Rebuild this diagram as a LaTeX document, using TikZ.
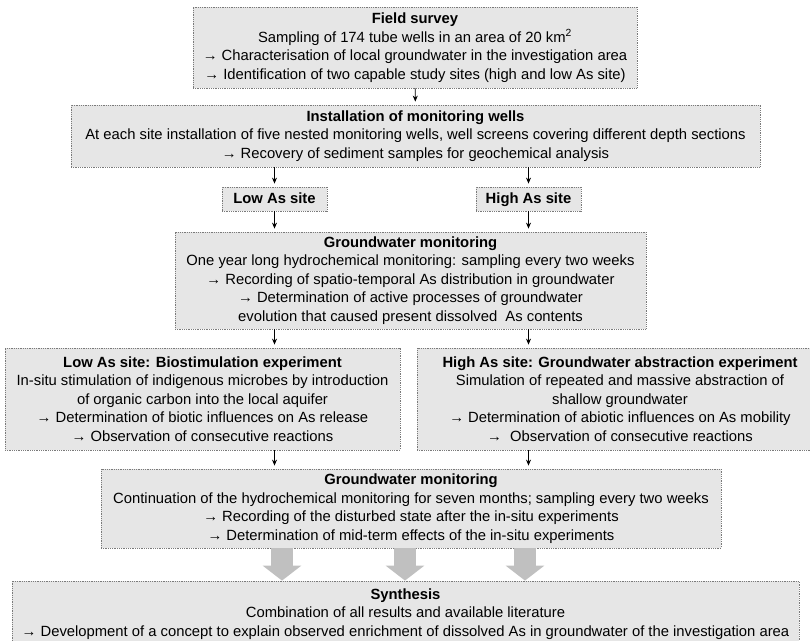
\documentclass[tikz,border=0pt]{standalone}
\usepackage{fontspec}
\setmainfont{Liberation Sans}
\usetikzlibrary{arrows.meta}

\definecolor{boxgray}{HTML}{E6E6E6}
\definecolor{framegray}{HTML}{7A7A7A}
\definecolor{fatgray}{HTML}{C0C0C0}

\tikzset{
  box/.style={draw=framegray, densely dotted, line width=0.8pt, fill=boxgray,
    align=center, inner sep=0pt, font=\fontsize{14.8}{18.5}\selectfont},
  sitebox/.style={box, font=\fontsize{14.8}{18.5}\selectfont\bfseries,
    text height=11pt, text depth=3pt},
  link/.style={-{Stealth[length=6pt,width=5pt]}, line width=0.7pt, shorten >=3pt},
  fatarrow/.style={draw=fatgray, line width=22pt, -{Triangle[length=15pt,width=38pt]}}
}

\begin{document}
\begin{tikzpicture}[x=1pt,y=-1pt]

\useasboundingbox (0,0) rectangle (810,640);

\node [box, minimum width=444, minimum height=81] (survey) at (415,47.5)
  {\textbf{Field survey}\\
   Sampling of 174 tube wells in an area of 20 km\textsuperscript{2}\\
   → Characterisation of local groundwater in the investigation area\\
   → Identification of two capable study sites (high and low As site)};

\node [box, minimum width=689, minimum height=62] (install) at (415.5,136)
  {\textbf{Installation of monitoring wells}\\
   At each site installation of five nested monitoring wells, well screens covering different depth sections\\
   → Recovery of sediment samples for geochemical analysis};

\node [sitebox, minimum width=105, minimum height=24] (low) at (274.5,199) {Low As site};
\node [sitebox, minimum width=105, minimum height=24] (high) at (528.5,199) {High As site};

\node [box, minimum width=471, minimum height=97] (monitor) at (410.5,280.5)
  {\textbf{Groundwater monitoring}\\
   One year long hydrochemical monitoring: sampling every two weeks\\
   → Recording of spatio-temporal As distribution in groundwater\\
   → Determination of active processes of groundwater\\
   evolution that caused present dissolved~ As contents};

\node [box, minimum width=395, minimum height=102] (biostim) at (202.5,399)
  {\textbf{Low As site: Biostimulation experiment}\\
   In-situ stimulation of indigenous microbes by introduction\\
   of organic carbon into the local aquifer\\
   → Determination of biotic influences on As release\\
   → Observation of consecutive reactions};

\node [box, minimum width=406, minimum height=102] (abstract) at (620,399)
  {\textbf{High As site: Groundwater abstraction experiment}\\
   Simulation of repeated and massive abstraction of\\
   shallow groundwater\\
   → Determination of abiotic influences on As mobility\\
   → ~Observation of consecutive reactions};

\node [box, minimum width=620, minimum height=79] (postmon) at (411,508.5)
  {\textbf{Groundwater monitoring}\\
   Continuation of the hydrochemical monitoring for seven months; sampling every two weeks\\
   → Recording of the disturbed state after the in-situ experiments\\
   → Determination of mid-term effects of the in-situ experiments};

\node [box, minimum width=787, minimum height=66] (synth) at (405.5,614)
  {\textbf{Synthesis}\\
   Combination of all results and available literature\\
   → Development of a concept to explain observed enrichment of dissolved As in groundwater of the investigation area};

\draw [link] (survey) -- (install);
\foreach \site in {low,high}
  \draw [link] (install.south -| \site) -- (\site);
\foreach \site in {low,high}
  \draw [link] (\site) -- (monitor.north -| \site);
\draw [link] (monitor.south -| low) -- (biostim.north -| low);
\draw [link] (monitor.south -| high) -- (abstract.north -| high);
\draw [link] (biostim.south -| low) -- (postmon.north -| low);
\draw [link] (abstract.south -| high) -- (postmon.north -| high);

\coordinate (fat1) at (282,0);
\coordinate (fat2) at (405,0);
\coordinate (fat3) at (525,0);
\foreach \i in {1,2,3}
  \draw [fatarrow] (postmon.south -| fat\i) -- (synth.north -| fat\i);

\end{tikzpicture}
\end{document}
